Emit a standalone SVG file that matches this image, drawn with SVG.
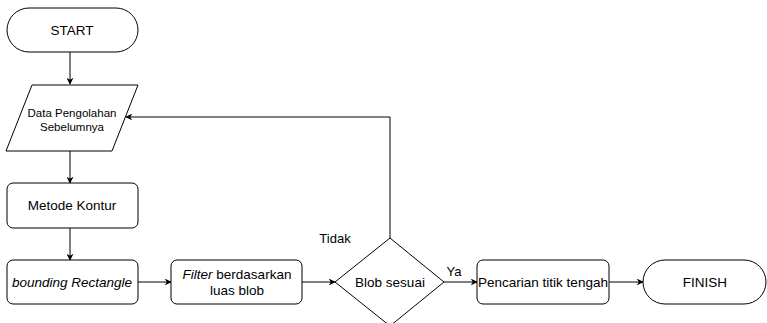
<svg xmlns="http://www.w3.org/2000/svg" width="767" height="323" viewBox="0 0 767 323">
<defs>
<style>
.shape{fill:#fff;stroke:#000;stroke-width:1}
.t{font-family:"Liberation Sans",Arial,sans-serif;font-size:13.5px;fill:#000;text-anchor:middle}
.tl{font-family:"Liberation Sans",Arial,sans-serif;font-size:13px;fill:#000;text-anchor:middle}
.ts{font-family:"Liberation Sans",Arial,sans-serif;font-size:11.5px;fill:#000;text-anchor:middle}
.line{fill:none;stroke:#000;stroke-width:1}
</style>
<marker id="arr" viewBox="0 0 10 10" refX="9" refY="5" markerWidth="7" markerHeight="7" markerUnits="userSpaceOnUse" orient="auto">
<path d="M0,0 L10,5 L0,10 L3,5 Z" fill="#000"/>
</marker>
</defs>
<rect width="767" height="323" fill="#fff"/>
<g id="connectors">
<line class="line" x1="70" y1="52" x2="70" y2="84" marker-end="url(#arr)"/>
<line class="line" x1="70" y1="151" x2="70" y2="183" marker-end="url(#arr)"/>
<line class="line" x1="70" y1="228" x2="70" y2="260" marker-end="url(#arr)"/>
<line class="line" x1="138" y1="282" x2="171" y2="282" marker-end="url(#arr)"/>
<line class="line" x1="302" y1="282" x2="335" y2="282" marker-end="url(#arr)"/>
<line class="line" x1="444" y1="282" x2="477" y2="282" marker-end="url(#arr)"/>
<line class="line" x1="609" y1="282" x2="643" y2="282" marker-end="url(#arr)"/>
<polyline class="line" points="390,238 390,117 126,117" marker-end="url(#arr)"/>
<text class="tl" x="335" y="243">Tidak</text>
<text class="tl" x="454" y="276">Ya</text>
</g>
<g id="start">
<rect class="shape" x="7" y="8" width="131" height="44" rx="22" ry="22"/>
<text class="t" x="72" y="35">START</text>
</g>
<g id="data">
<polygon class="shape" points="32,85 138,85 112,151 6,151"/>
<text class="ts" x="72" y="117">Data Pengolahan</text>
<text class="ts" x="72" y="131">Sebelumnya</text>
</g>
<g id="kontur">
<rect class="shape" x="7" y="183" width="131" height="45" rx="6" ry="6"/>
<text class="t" x="72" y="210">Metode Kontur</text>
</g>
<g id="bounding">
<rect class="shape" x="7" y="260" width="131" height="44" rx="6" ry="6"/>
<text class="t" x="72" y="287" font-style="italic">bounding Rectangle</text>
</g>
<g id="filter">
<rect class="shape" x="171" y="260" width="131" height="44" rx="6" ry="6"/>
<text class="t" x="237" y="279"><tspan font-style="italic">Filter</tspan> berdasarkan</text>
<text class="t" x="237" y="295">luas blob</text>
</g>
<g id="decision">
<polygon class="shape" points="390,238 444,282 390,326 335,282"/>
<text class="t" x="390" y="287">Blob sesuai</text>
</g>
<g id="pencarian">
<rect class="shape" x="477" y="260" width="132" height="44" rx="6" ry="6"/>
<text class="t" x="543" y="287">Pencarian titik tengah</text>
</g>
<g id="finish">
<rect class="shape" x="643" y="260" width="123" height="44" rx="22" ry="22"/>
<text class="t" x="705" y="287">FINISH</text>
</g>
</svg>
